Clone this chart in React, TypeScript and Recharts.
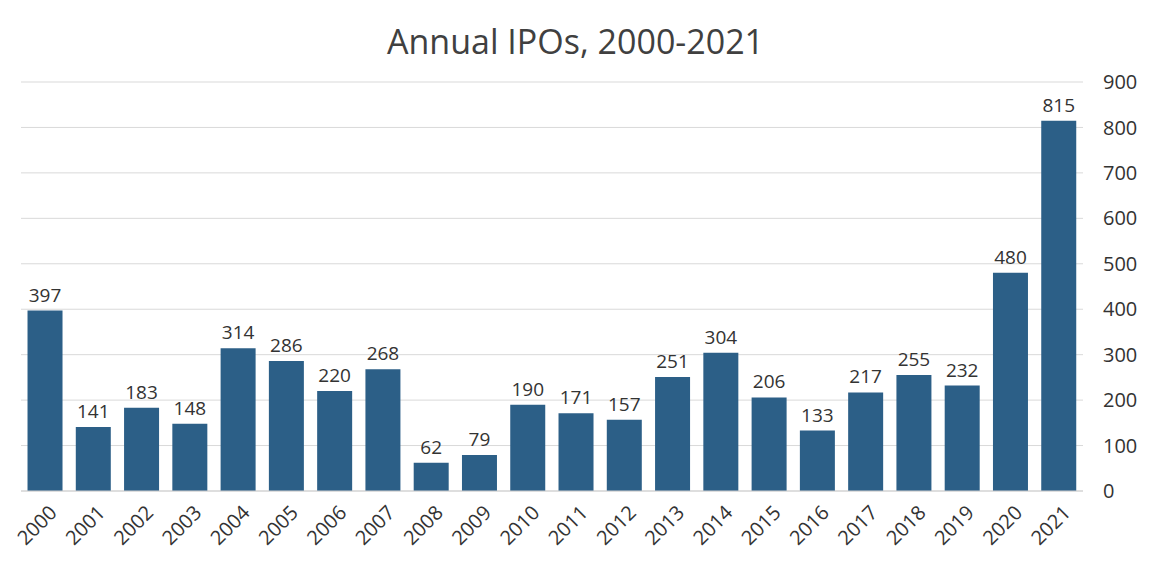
import { BarChart, Bar, XAxis, YAxis, CartesianGrid, LabelList } from "recharts";

const years = [
  "2000", "2001", "2002", "2003", "2004", "2005", "2006", "2007", "2008", "2009", "2010",
  "2011", "2012", "2013", "2014", "2015", "2016", "2017", "2018", "2019", "2020", "2021",
];
const ipos = [
  397, 141, 183, 148, 314, 286, 220, 268, 62, 79, 190,
  171, 157, 251, 304, 206, 133, 217, 255, 232, 480, 815,
];
const yTicks = [0, 100, 200, 300, 400, 500, 600, 700, 800, 900];

const data = years.map((y, i) => ({ year: y, ipos: ipos[i] }));

const FONT = "'Open Sans', 'Noto Sans', sans-serif";

function XTick({ x, y, payload }: any) {
  return (
    <g transform={`translate(${x + 8},${y + 10})`}>
      <text
        textAnchor="end"
        transform="rotate(-45)"
        fill="#333"
        fontSize={20}
        fontFamily={FONT}
        dy={7}
      >
        {payload.value}
      </text>
    </g>
  );
}

export default function App() {
  return (
    <div style={{ position: "absolute", left: 0, top: 0, width: 1151, height: 574, background: "#fff" }}>
      <div
        style={{
          position: "absolute",
          top: 18,
          width: 1151,
          textAlign: "center",
          fontFamily: FONT,
          fontSize: 34,
          lineHeight: "46px",
          color: "#404040",
        }}
      >
        Annual IPOs, 2000-2021
      </div>
      <BarChart
        width={1151}
        height={574}
        data={data}
        margin={{ top: 82, right: 0, bottom: 0, left: 21 }}
        barCategoryGap="13.5%"
      >
        <CartesianGrid vertical={false} stroke="#d9d9d9" />
        <XAxis
          dataKey="year"
          interval={0}
          height={83}
          tick={<XTick />}
          tickLine={false}
          axisLine={{ stroke: "#d0d0d0" }}
        />
        <YAxis
          orientation="right"
          domain={[0, 900]}
          ticks={yTicks}
          width={68}
          axisLine={false}
          tickLine={false}
          tickMargin={14}
          tick={{ fill: "#333", fontSize: 20, fontFamily: FONT, textAnchor: "start" }}
        />
        <Bar dataKey="ipos" fill="#2C5F87" isAnimationActive={false}>
          <LabelList
            dataKey="ipos"
            position="top"
            offset={9}
            fill="#333"
            fontSize={19}
            fontFamily={FONT}
          />
        </Bar>
      </BarChart>
    </div>
  );
}
